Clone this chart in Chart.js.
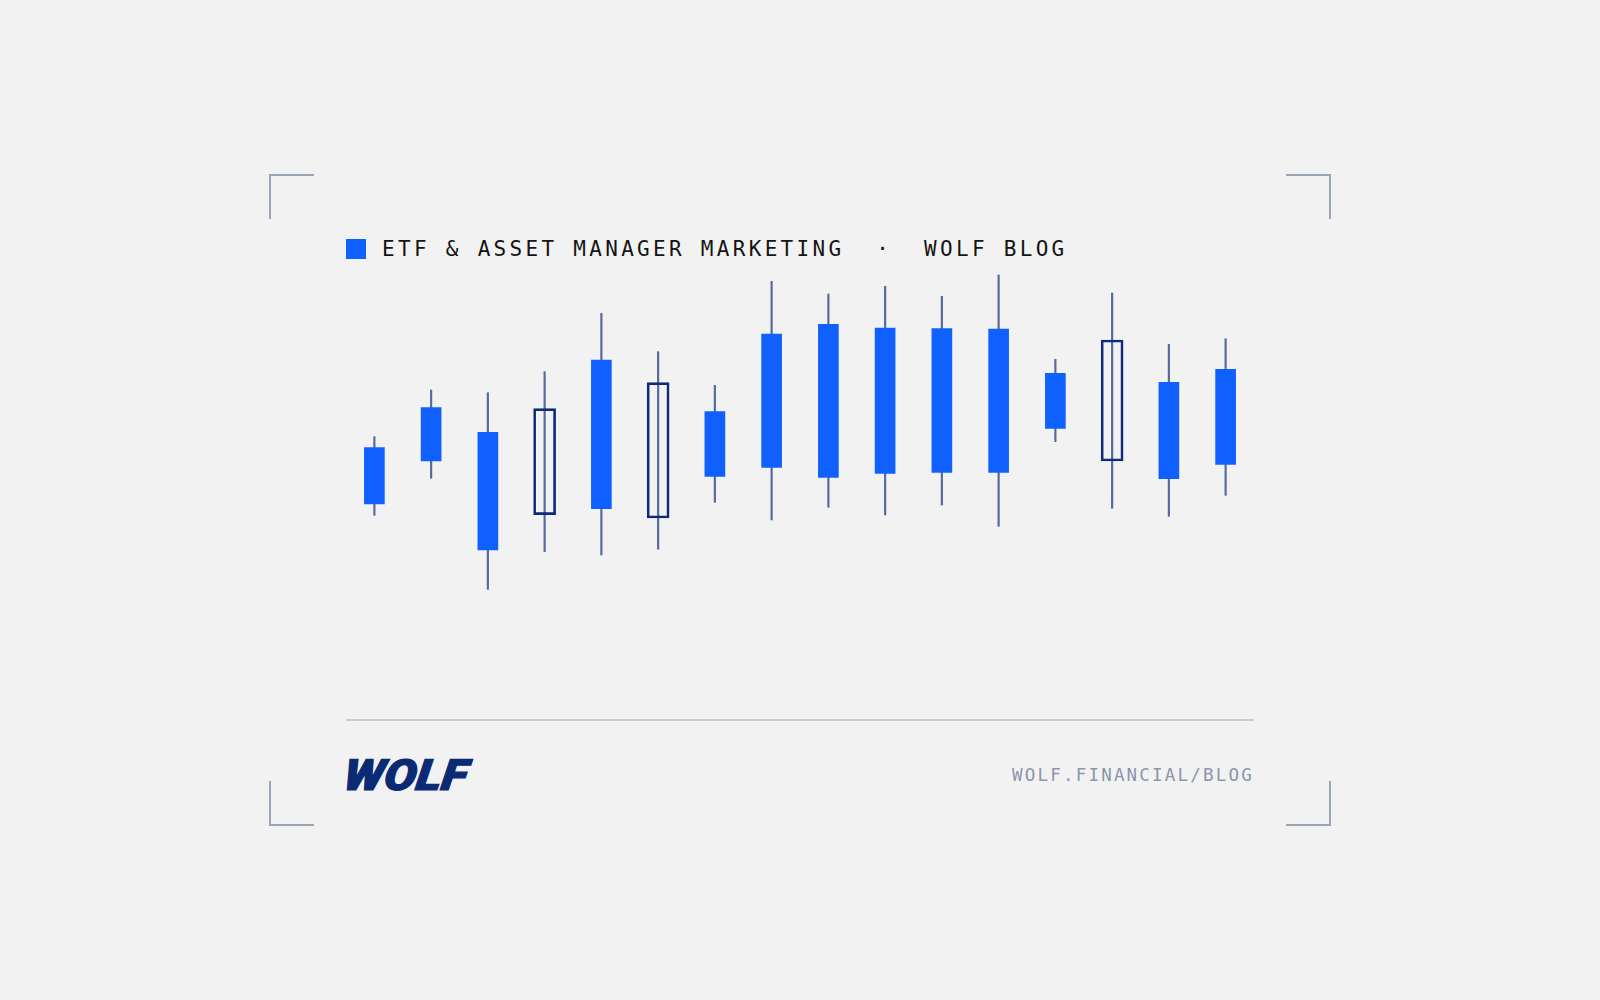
<!DOCTYPE html>
<html>
<head>
<meta charset="utf-8">
<title>ETF & Asset Manager Marketing</title>
<script src="https://cdn.jsdelivr.net/npm/chart.js"></script>
<style>
  html, body { margin: 0; padding: 0; background: #f2f2f2; }
  #page { position: relative; width: 1600px; height: 1000px; overflow: hidden; background: #f2f2f2; }
  .corner { position: absolute; width: 43px; height: 43px; border: 0 solid #9aa6b7; }
  .tl { left: 269px; top: 174px; border-left-width: 2px; border-top-width: 2px; }
  .tr { left: 1286px; top: 174px; border-right-width: 2px; border-top-width: 2px; }
  .bl { left: 269px; top: 781px; border-left-width: 2px; border-bottom-width: 2px; }
  .br { left: 1286px; top: 781px; border-right-width: 2px; border-bottom-width: 2px; }
  #square { position: absolute; left: 346px; top: 239px; width: 20px; height: 20px; background: #1060ff; }
  #header { position: absolute; left: 382px; top: 238.5px; font: 400 21px/20px "DejaVu Sans Mono", monospace;
            letter-spacing: 3.3px; color: #141414; white-space: pre; }
  #chartBox { position: absolute; left: 346px; top: 260px; width: 908px; height: 340px; }
  #divider { position: absolute; left: 346px; top: 719px; width: 908px; height: 2px; background: #c6cbdc; }
  #logo { position: absolute; left: 343.5px; top: 750px; font: italic 900 43px/50px Roboto, sans-serif;
          letter-spacing: 0px; color: #0a2a73; -webkit-text-stroke: 1.2px #0a2a73; white-space: pre;
          transform-origin: left center; transform: skewX(-8deg) scaleX(1.12); }
  #url { position: absolute; left: 1012px; top: 766px; font: 400 17.5px/18px "DejaVu Sans Mono", monospace;
         letter-spacing: 2.2px; color: #8a96ae; white-space: pre; }
</style>
</head>
<body>
<div id="page">
  <div class="corner tl"></div><div class="corner tr"></div>
  <div class="corner bl"></div><div class="corner br"></div>
  <div id="square"></div>
  <div id="header">ETF &amp; ASSET MANAGER MARKETING  ·  WOLF BLOG</div>
  <div id="chartBox"><canvas id="candles"></canvas></div>
  <div id="divider"></div>
  <div id="logo">WOLF</div>
  <div id="url">WOLF.FINANCIAL/BLOG</div>
</div>
<script>
// values
const categories = ['1','2','3','4','5','6','7','8','9','10','11','12','13','14','15','16'];
const highs   = [563.3, 610, 607.3, 628.3, 686.7, 648.3, 614.7, 718.7, 706, 713.7, 703.7, 725, 640.7, 707, 655.7, 661.3];
const lows    = [484.7, 521.7, 410.7, 448.3, 445, 450.7, 497.7, 480, 492.7, 485, 495, 473.7, 558.3, 491.7, 483.7, 504.7];
const bodyTop = [552.3, 592.3, 567.7, 591.3, 640, 617.3, 588.3, 666, 675.7, 672, 671.3, 671, 626.7, 660, 617.7, 630.7];
const bodyLow = [496, 539, 450, 485.3, 491.3, 482, 523.7, 532.7, 522.7, 526.7, 527.7, 527.7, 571.7, 539, 521.3, 535.7];
const hollow  = [3, 5, 13]; // candles drawn as outlines only

const wicks = categories.map((c, i) => [lows[i], highs[i]]);
const solidBodies = categories.map((c, i) => hollow.includes(i) ? null : [bodyLow[i], bodyTop[i]]);
const hollowBodies = categories.map((c, i) => hollow.includes(i) ? [bodyLow[i], bodyTop[i]] : null);

new Chart(document.getElementById('candles').getContext('2d'), {
  type: 'bar',
  data: {
    labels: categories,
    datasets: [
      { label: 'Wick', data: wicks, order: 3, grouped: false, barThickness: 1.5,
        backgroundColor: 'rgba(10, 42, 115, 0.68)', borderWidth: 0 },
      { label: 'Body', data: solidBodies, order: 1, grouped: false, barThickness: 20,
        backgroundColor: '#1060ff', borderWidth: 0 },
      { label: 'Outline', data: hollowBodies, order: 2, grouped: false, barThickness: 22,
        backgroundColor: 'transparent', borderColor: '#0f2a78', borderWidth: 2, borderSkipped: false }
    ]
  },
  options: {
    responsive: true,
    maintainAspectRatio: false,
    animation: false,
    layout: { padding: 0 },
    plugins: { legend: { display: false }, tooltip: { enabled: false } },
    scales: {
      x: { display: false },
      y: { display: false, min: 400, max: 740 }
    }
  }
});
</script>
</body>
</html>
